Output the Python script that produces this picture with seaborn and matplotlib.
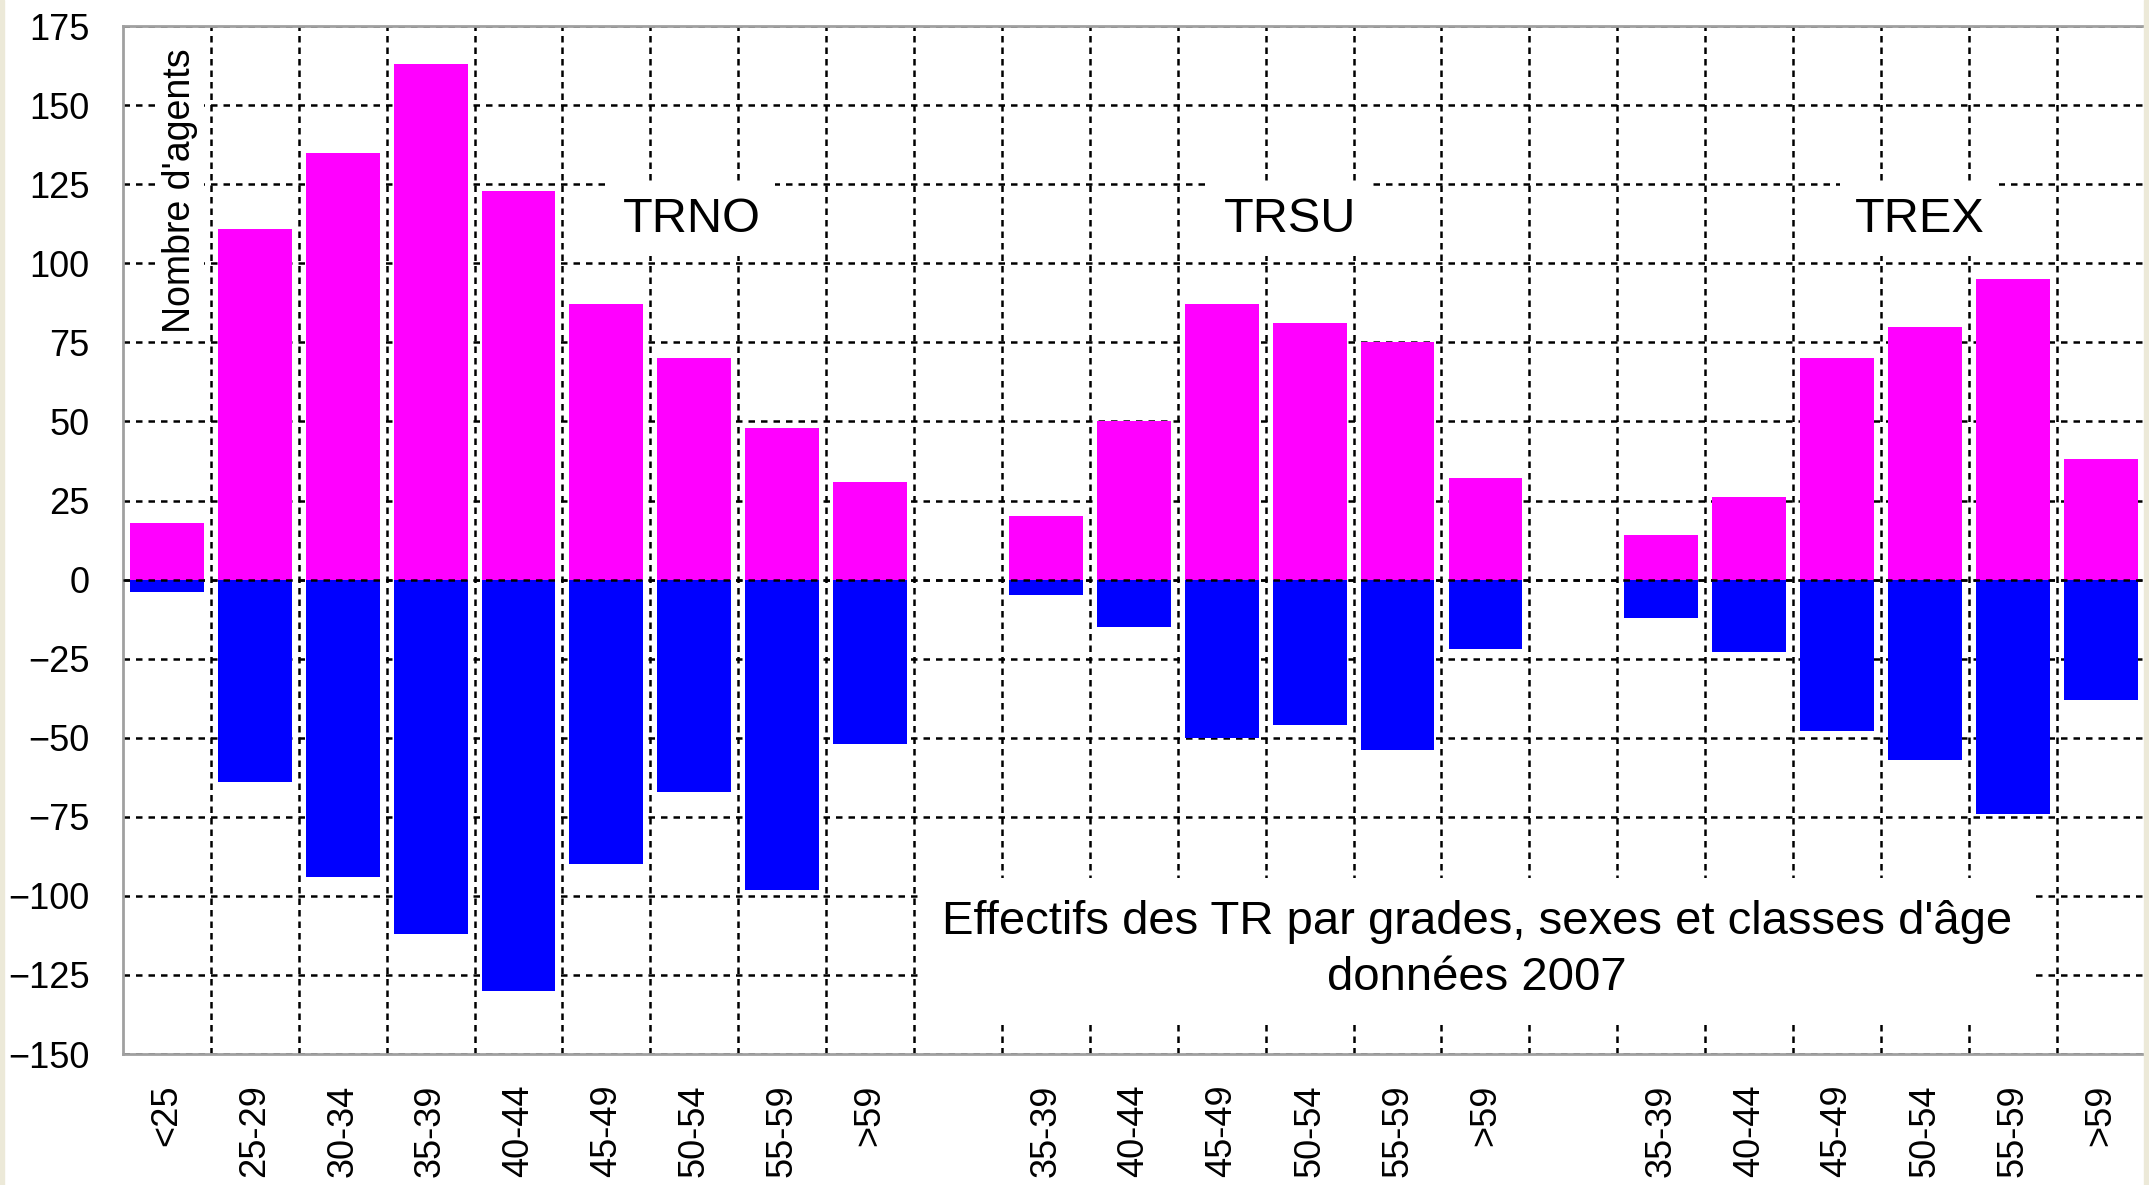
import numpy as np
import pandas as pd
import matplotlib.pyplot as plt
import seaborn as sns

# Style
sns.set_style("white")
plt.rcParams["font.family"] = ["Liberation Sans", "DejaVu Sans"]
plt.rcParams["text.color"] = "black"
plt.rcParams["xtick.color"] = "black"
plt.rcParams["ytick.color"] = "black"

# ==========================================
# Données
# ==========================================
grades = ["TRNO", "TRSU", "TREX"]

ages_trno = ["<25", "25-29", "30-34", "35-39", "40-44", "45-49", "50-54", "55-59", ">59"]
ages_trsu = ["35-39", "40-44", "45-49", "50-54", "55-59", ">59"]
ages_trex = ["35-39", "40-44", "45-49", "50-54", "55-59", ">59"]

femmes_trno = [18, 111, 135, 163, 123, 87, 70, 48, 31]
femmes_trsu = [20, 50, 87, 81, 75, 32]
femmes_trex = [14, 26, 70, 80, 95, 38]

hommes_trno = [-4, -64, -94, -112, -130, -90, -67, -98, -52]
hommes_trsu = [-5, -15, -50, -46, -54, -22]
hommes_trex = [-12, -23, -48, -57, -74, -38]

# Tableau long : une case vide entre chaque grade
rows = []
offset = 0
for grade, ages, fem, hom in zip(grades,
                                 [ages_trno, ages_trsu, ages_trex],
                                 [femmes_trno, femmes_trsu, femmes_trex],
                                 [hommes_trno, hommes_trsu, hommes_trex]):
    for i, (a, f, h) in enumerate(zip(ages, fem, hom)):
        rows.append({"grade": grade, "age": a, "pos": offset + i, "femmes": f, "hommes": h})
    offset += len(ages) + 1
df = pd.DataFrame(rows)
n_slots = offset - 1

# ==========================================
# Graphique
# ==========================================
fig = plt.figure(figsize=(21.49, 11.85), dpi=100, facecolor="white")
ax = fig.add_axes([0.0572, 0.1105, 0.9408, 0.8675])

sns.barplot(data=df, x="pos", y="femmes", native_scale=True, color="#FF00FF",
            saturation=1, width=0.84, linewidth=0, errorbar=None, ax=ax)
sns.barplot(data=df, x="pos", y="hommes", native_scale=True, color="#0000FF",
            saturation=1, width=0.84, linewidth=0, errorbar=None, ax=ax)

ax.set_xlim(-0.5, n_slots - 0.5)
ax.set_ylim(-150, 175)
ax.set_xlabel("")
ax.set_ylabel("")

# Graduations
ax.set_yticks(np.arange(-150, 176, 25))
ax.set_xticks(df["pos"])
ax.set_xticklabels(df["age"], rotation=90)
ax.set_xticks(np.arange(0.5, n_slots - 1, 1), minor=True)
ax.tick_params(axis="both", which="both", length=0, labelsize=26, pad=24,
               labelcolor="black")
ax.tick_params(axis="x", pad=22)

# Grille en pointillés
ax.set_axisbelow(True)
ax.grid(False)
ax.grid(which="minor", axis="x", color="black", linestyle=(0, (2.6, 2)), linewidth=1.8)
ax.grid(which="major", axis="y", color="black", linestyle=(0, (2.6, 2.4)), linewidth=1.8)
ax.axhline(0, color="black", linestyle=(0, (2.6, 2.4)), linewidth=1.8, zorder=3)

for s in ax.spines.values():
    s.set_color("#A0A0A0")
    s.set_linewidth(2)

# Textes
boite = dict(facecolor="white", edgecolor="none", boxstyle="square,pad=0.3")
ax.text(5.97, 114, "TRNO", fontsize=35, ha="center", va="center", bbox=boite)
ax.text(12.78, 114, "TRSU", fontsize=35, ha="center", va="center", bbox=boite)
ax.text(19.94, 114, "TREX", fontsize=35, ha="center", va="center", bbox=boite)
ax.text(0.15, 123, "Nombre d'agents", fontsize=27, rotation=90,
        ha="center", va="center", bbox=dict(facecolor="white", edgecolor="none",
                                            boxstyle="square,pad=0.15"))
ax.text(14.9, -117, "Effectifs des TR par grades, sexes et classes d'âge\ndonnées 2007",
        fontsize=34, ha="center", va="center", linespacing=1.35,
        bbox=dict(facecolor="white", edgecolor="none", boxstyle="square,pad=0.45"))

# Bordures beiges de la fenêtre
fig.patches.append(plt.Rectangle((0, 0), 0.0018, 1, transform=fig.transFigure,
                                 color="#ECE9D8", zorder=0))
fig.patches.append(plt.Rectangle((0.9975, 0), 0.0025, 1, transform=fig.transFigure,
                                 color="#ECE9D8", zorder=0))

fig.savefig("out.png", dpi=100, facecolor="white")
